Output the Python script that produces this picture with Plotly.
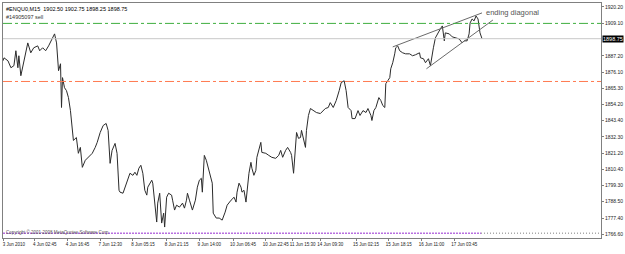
import plotly.graph_objects as go

# ---- data (bar index -> close price) ----
bar_index = [
    2, 3, 7, 10, 13, 15, 17, 18, 20, 22, 25, 27, 30, 33, 37, 39, 42, 45, 48, 52, 54, 56, 57, 58, 60, 61, 62, 64, 66, 68,
    70, 72, 73, 76, 78, 80, 82, 85, 88, 92, 95, 97, 100, 103, 106, 108, 110, 112, 115, 117, 119,
    120, 123, 127, 130, 133, 135, 137, 139, 141, 143, 145, 147, 148, 152, 153, 155, 157, 158, 160, 162, 164, 165, 167,
    169, 172, 173, 175, 177, 180, 183, 185, 187, 188, 190, 193, 196, 198, 200, 202, 203, 204, 205, 207, 210, 213, 214,
    217, 220, 223, 226, 228, 232, 235, 237, 238,
    240, 242, 243, 245, 247, 248, 250, 252, 253, 255, 257, 258, 260, 262, 263, 267, 270, 273, 277, 280, 282, 284, 287,
    289, 292, 293, 295, 296, 298, 300, 302, 303, 305, 307, 308, 310, 312, 315, 318, 322, 325, 327, 330, 332, 335, 338,
    341, 343, 346, 348, 350, 353, 354, 357,
    360, 362, 365, 368, 370, 373, 374, 376, 378, 381, 383, 385, 387, 388, 390, 392, 393, 395, 397, 398, 400, 402, 405,
    408, 412, 415, 418, 422, 423, 426, 428, 431, 433, 434, 436, 438, 440, 443, 445, 446, 447, 448, 452, 455, 458, 462,
    465, 467, 470, 472, 473, 475, 477, 479, 481, 482, 483, 485,
]
close = [
    1883.8, 1885.8, 1883.8, 1879.1, 1880.5, 1890.6, 1879.1, 1887.2, 1873.7, 1880.5, 1890.6, 1895.9, 1889.2, 1892.6,
    1893.9, 1890.6, 1892.6, 1890.6, 1893.9, 1899.3, 1902.0, 1895.9, 1885.8, 1877.1, 1881.8, 1852.2, 1872.4, 1865.6,
    1863.6, 1858.9, 1850.1, 1836.7, 1829.9, 1831.9, 1821.2, 1825.2, 1811.7, 1816.5, 1818.5, 1821.2, 1825.2, 1828.6,
    1835.3, 1840.0, 1841.4, 1836.7, 1814.4, 1823.2, 1827.9, 1821.2, 1796.2,
    1794.9, 1794.2, 1801.6, 1807.7, 1806.3, 1808.4, 1806.3, 1811.1, 1813.1, 1807.7, 1796.2, 1792.9, 1798.3, 1803.0,
    1801.0, 1789.5, 1774.7, 1787.5, 1794.2, 1774.0, 1780.7, 1771.3, 1791.5, 1794.2, 1792.9, 1789.5, 1782.8, 1786.1,
    1784.8, 1787.5, 1784.1, 1789.5, 1794.2, 1789.5, 1782.8, 1789.5, 1798.3, 1803.0, 1804.3, 1794.9, 1814.4, 1819.8,
    1816.5, 1807.7, 1801.0, 1780.7, 1777.4, 1777.4, 1776.0, 1781.4, 1786.1, 1789.5, 1791.5, 1788.2, 1794.9,
    1801.0, 1798.3, 1794.9, 1796.2, 1788.2, 1794.9, 1807.7, 1815.1, 1811.1, 1806.3, 1809.7, 1818.5, 1823.2, 1828.6,
    1821.8, 1821.2, 1819.8, 1818.5, 1817.8, 1819.8, 1823.2, 1818.5, 1823.2, 1825.2, 1821.8, 1819.8, 1807.7, 1816.5,
    1835.3, 1831.3, 1831.9, 1836.7, 1829.9, 1825.2, 1836.7, 1846.8, 1851.5, 1850.1, 1848.8, 1848.1, 1850.1, 1851.5,
    1852.2, 1855.5, 1852.2, 1856.9, 1863.6, 1869.0, 1870.3, 1863.6, 1852.2, 1850.1, 1844.7, 1844.7,
    1850.1, 1846.8, 1850.1, 1848.8, 1851.5, 1846.8, 1843.4, 1850.1, 1852.2, 1858.9, 1856.9, 1853.5, 1852.2, 1868.3,
    1870.3, 1872.4, 1878.4, 1882.5, 1888.5, 1892.6, 1893.9, 1890.6, 1889.2, 1888.5, 1888.5, 1887.2, 1887.9, 1889.2,
    1885.8, 1885.2, 1882.5, 1885.2, 1880.5, 1885.2, 1892.6, 1899.3, 1902.0, 1905.4, 1907.4, 1899.3, 1897.3, 1902.7,
    1902.0, 1900.0, 1899.3, 1898.6, 1895.9, 1897.3, 1897.3, 1902.0, 1909.4, 1912.1, 1910.8, 1914.1, 1912.1, 1907.4,
    1902.7, 1898.75,
]

# ending-diagonal trendlines (bar, price)
upper_bars = [395, 485]
upper_prices = [1893.2, 1916.2]
lower_bars = [429, 496]
lower_prices = [1878.4, 1911.4]

# horizontal levels
sell_level = 1909.1
stop_level = 1869.8
bid_level = 1898.75

# axis ticks
price_ticks = [1920.20, 1909.10, 1887.20, 1876.10, 1865.30, 1854.20, 1843.40, 1832.30,
               1821.20, 1810.40, 1799.30, 1788.50, 1777.40, 1766.60]
time_tick_bars = [3, 34, 67, 100, 133, 167, 200, 234, 267, 294, 322, 358, 391, 424, 457]
time_tick_labels = ["3 Jun 2010", "4 Jun 02:45", "4 Jun 16:45", "7 Jun 12:30", "8 Jun 05:15",
                    "8 Jun 21:15", "9 Jun 14:00", "10 Jun 06:45", "10 Jun 22:45", "11 Jun 15:30",
                    "14 Jun 09:30", "15 Jun 02:15", "15 Jun 18:15", "16 Jun 11:00", "17 Jun 03:45"]

FONT = "Liberation Sans"

fig = go.Figure()
fig.add_trace(go.Scatter(x=bar_index, y=close, mode="lines",
                         line=dict(color="#2b2b2b", width=1), showlegend=False))
fig.add_trace(go.Scatter(x=upper_bars, y=upper_prices, mode="lines",
                         line=dict(color="#6a6a6a", width=1), showlegend=False))
fig.add_trace(go.Scatter(x=lower_bars, y=lower_prices, mode="lines",
                         line=dict(color="#6a6a6a", width=1), showlegend=False))

fig.add_shape(type="line", xref="paper", yref="y", x0=0, x1=1, y0=sell_level, y1=sell_level,
              line=dict(color="#3fae3f", width=1, dash="dashdot"))
fig.add_shape(type="line", xref="paper", yref="y", x0=0, x1=1, y0=stop_level, y1=stop_level,
              line=dict(color="#ff7a50", width=1, dash="dashdot"))
fig.add_shape(type="line", xref="paper", yref="y", x0=0, x1=1, y0=bid_level, y1=bid_level,
              line=dict(color="#c8c8c8", width=1))

# bottom indicator strip
fig.add_shape(type="line", xref="x", yref="paper", x0=2, x1=484, y0=0.02, y1=0.02,
              line=dict(color="#b870e0", width=1.5, dash="2px,1px"))
fig.add_shape(type="line", xref="x", yref="paper", x0=484, x1=604, y0=0.02, y1=0.02,
              line=dict(color="#aaaaaa", width=1.5, dash="1px,2px"))

fig.add_annotation(x=0, y=1, xref="paper", yref="paper", xanchor="left", yanchor="top",
                   xshift=1, yshift=-1, showarrow=False,
                   text="#ENQU0,M15  1902.50 1902.75 1898.25 1898.75",
                   font=dict(family=FONT, size=5.5, color="#000000"))
fig.add_annotation(x=3, y=sell_level, xref="x", yref="y", xanchor="left", yanchor="bottom",
                   yshift=1, showarrow=False, text="#14905097 sell",
                   font=dict(family=FONT, size=5.5, color="#333333"))
fig.add_annotation(x=487, y=1916.2, xref="x", yref="y", xanchor="left", yanchor="middle",
                   showarrow=False, text="ending diagonal",
                   font=dict(family=FONT, size=7.5, color="#555555"))
fig.add_annotation(x=0, y=0, xref="paper", yref="paper", xanchor="left", yanchor="bottom",
                   xshift=1, yshift=1, showarrow=False,
                   text="Copyright © 2001-2008 MetaQuotes Software Corp.",
                   font=dict(family=FONT, size=4.5, color="#555555"))
fig.add_annotation(x=1, y=bid_level, xref="paper", yref="y", xanchor="left", yanchor="middle",
                   xshift=1, showarrow=False, text="1898.75", bgcolor="#000000",
                   borderpad=0, font=dict(family=FONT, size=5.5, color="#ffffff"))

fig.update_xaxes(range=[2, 605], showgrid=False, zeroline=False,
                 showline=True, mirror=True, linecolor="#808080", linewidth=1,
                 tickmode="array", tickvals=time_tick_bars, ticktext=time_tick_labels,
                 tickangle=0, ticks="outside", ticklen=2, tickcolor="#808080", ticklabelshift=10,
                 tickfont=dict(family=FONT, size=4.5, color="#222222"))
fig.update_yaxes(range=[1763.9, 1922.9], side="right", showgrid=False, zeroline=False,
                 showline=True, mirror=True, linecolor="#808080", linewidth=1,
                 tickmode="array", tickvals=price_ticks,
                 ticktext=[f"{v:.2f}" for v in price_ticks],
                 ticks="outside", ticklen=2, tickcolor="#808080",
                 tickfont=dict(family=FONT, size=5, color="#222222"))

fig.update_layout(width=625, height=254, margin=dict(l=2, r=20, t=2, b=16),
                  plot_bgcolor="#ffffff", paper_bgcolor="#ffffff", showlegend=False)

fig.write_html("out.html")
